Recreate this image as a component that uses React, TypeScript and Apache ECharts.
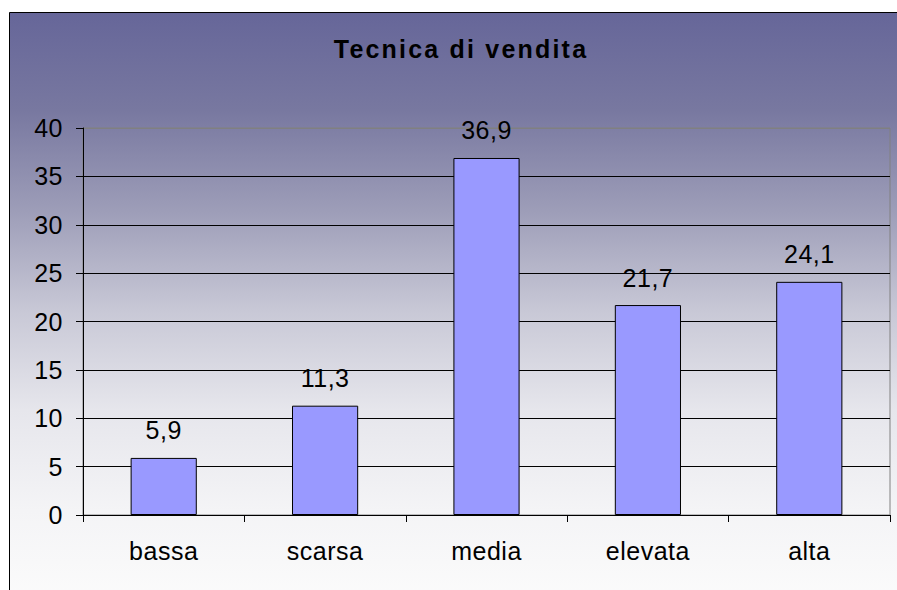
import React, { useEffect, useRef } from "react";
import * as echarts from "echarts";

const title = "Tecnica di vendita";
const categories = ["bassa", "scarsa", "media", "elevata", "alta"];
const values = [5.9, 11.3, 36.9, 21.7, 24.1];
const yMin = 0;
const yMax = 40;
const yStep = 5;

const FONT = '"Liberation Sans", Arial, sans-serif';

const css = `
#chartbox text { letter-spacing: 0.5px; }
#chartbox text[style*="bold"], #chartbox text[font-weight="bold"] { letter-spacing: 2.2px; }
`;

export default function App() {
  const ref = useRef<HTMLDivElement>(null);
  useEffect(() => {
    if (!ref.current) return;
    const chart = echarts.init(ref.current, undefined, { renderer: "svg" });
    const splitColors = [] as string[];
    for (let v = yMin; v < yMax; v += yStep) splitColors.push("#000000");
    splitColors.push("#808080");
    chart.setOption({
      animation: false,
      graphic: [
        {
          type: "rect",
          z: -10,
          shape: { x: 9.5, y: 12.5, width: 900, height: 600 },
          style: {
            fill: new echarts.graphic.LinearGradient(0, 0, 0, 1, [
              { offset: 0, color: "#666699" },
              { offset: 0.163, color: "#7878a0" },
              { offset: 0.33, color: "#9d9db8" },
              { offset: 0.497, color: "#c8c8d6" },
              { offset: 0.663, color: "#e6e6ec" },
              { offset: 0.83, color: "#f4f4f6" },
              { offset: 1, color: "#fcfcfc" },
            ]),
            stroke: "#000000",
            lineWidth: 1,
          },
        },
        {
          type: "text",
          z: 10,
          x: 461,
          y: 36,
          style: {
            text: title,
            font: 'bold 25px "Liberation Sans", Arial, sans-serif',
            fill: "#000000",
            textAlign: "center",
            textVerticalAlign: "top",
          },
        },
      ],
      grid: {
        left: 83,
        right: 7,
        top: 128,
        bottom: 75,
        show: true,
        borderColor: "#808080",
        borderWidth: 1,
        backgroundColor: "transparent",
      },
      xAxis: {
        type: "category",
        data: categories,
        axisLine: { show: true, lineStyle: { color: "#000000", width: 1 } },
        axisTick: { show: true, length: 7, lineStyle: { color: "#000000" } },
        axisLabel: { color: "#000000", fontSize: 25, fontFamily: FONT, margin: 23 },
        splitLine: { show: false },
      },
      yAxis: {
        type: "value",
        min: yMin,
        max: yMax,
        interval: yStep,
        axisLine: { show: true, lineStyle: { color: "#000000", width: 1 } },
        axisTick: { show: true, length: 7, lineStyle: { color: "#000000" } },
        axisLabel: { color: "#000000", fontSize: 25, fontFamily: FONT, margin: 20 },
        splitLine: { show: true, lineStyle: { color: splitColors, width: 1 } },
      },
      series: [
        {
          type: "bar",
          data: values,
          barWidth: "41%",
          itemStyle: { color: "#9999ff", borderColor: "#000000", borderWidth: 1 },
          label: {
            show: true,
            position: "top",
            distance: 15,
            color: "#000000",
            fontSize: 25,
            fontFamily: FONT,
            formatter: (p: any) => String(p.value).replace(".", ","),
          },
        },
      ],
    });
    return () => chart.dispose();
  }, []);
  return (
    <>
      <style>{css}</style>
      <div
        id="chartbox"
        ref={ref}
        style={{ position: "absolute", left: 0, top: 0, width: 897, height: 590 }}
      />
    </>
  );
}
